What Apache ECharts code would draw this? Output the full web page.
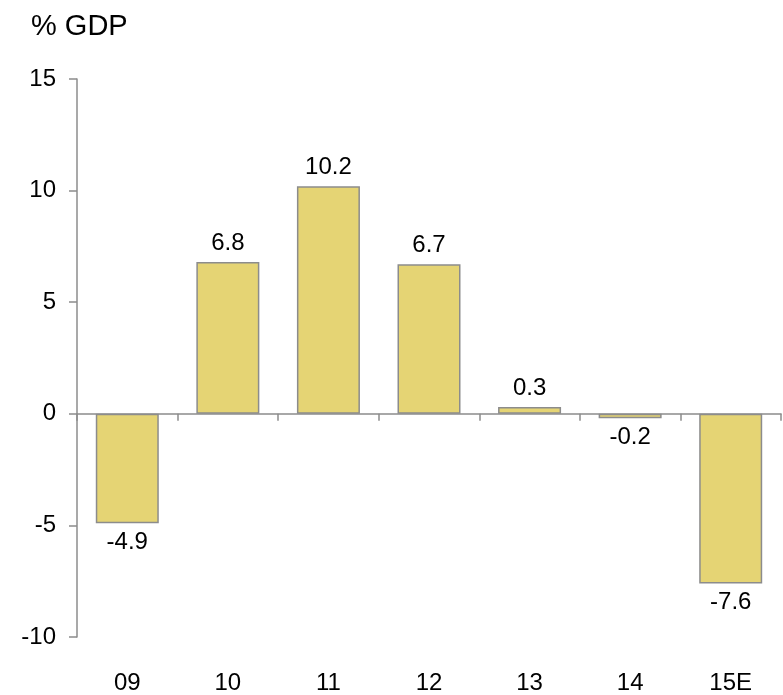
<!DOCTYPE html>
<html><head><meta charset="utf-8">
<script src="https://cdn.jsdelivr.net/npm/echarts@6/dist/echarts.min.js"></script>
<style>html,body{margin:0;padding:0;background:#fff}#c{width:783px;height:695px}</style>
</head><body><div id="c"></div>
<script>
const categories = ['09','10','11','12','13','14','15E'];
const values = [-4.9, 6.8, 10.2, 6.7, 0.3, -0.2, -7.6];
const yTicks = {min: -10, max: 15, interval: 5};
const unitLabel = '% GDP';

const chart = echarts.init(document.getElementById('c'));
const font = 'Liberation Sans, Arial, sans-serif';
const axisGray = '#8c8c8c';
chart.setOption({
  animation: false,
  title: {text: unitLabel, left: 26, top: 7, textStyle: {fontFamily: font, fontSize: 29, fontWeight: 'normal', color: '#000'}},
  grid: {left: 77, right: 2, top: 79, bottom: 56},
  xAxis: [
    {type: 'category', data: categories, axisLine: {onZero: true, lineStyle: {color: axisGray, width: 1.5}},
     axisTick: {show: true, length: 7, lineStyle: {color: axisGray, width: 1.5}}, axisLabel: {show: false}},
    {type: 'category', data: categories, position: 'bottom', axisLine: {show: false}, axisTick: {show: false},
     axisLabel: {margin: 34, fontFamily: font, fontSize: 24, color: '#000'}}
  ],
  yAxis: {type: 'value', min: yTicks.min, max: yTicks.max, interval: yTicks.interval,
    axisLine: {show: true, lineStyle: {color: axisGray, width: 1.5}},
    axisTick: {show: true, length: 8, lineStyle: {color: axisGray, width: 1.5}},
    splitLine: {show: false},
    axisLabel: {margin: 21, fontFamily: font, fontSize: 24, color: '#000'}},
  series: [{
    type: 'bar', xAxisIndex: 0, barWidth: 63,
    data: values.map(v => ({value: v, label: {position: v >= 0 ? 'top' : 'bottom'}})),
    itemStyle: {color: '#E5D474', borderColor: axisGray, borderWidth: 1.5},
    label: {show: true, distance: 7, fontFamily: font, fontSize: 24, color: '#000',
      formatter: p => p.value.toFixed(1)}
  }]
});
</script></body></html>
